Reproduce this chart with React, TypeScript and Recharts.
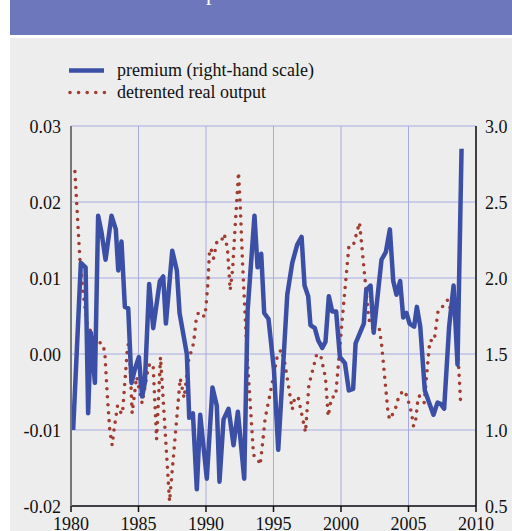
import React from "react";
import { LineChart, Line, XAxis, YAxis, CartesianGrid } from "recharts";

const premiumYears = [
  1980.16, 1980.73, 1981.08, 1981.27, 1981.47, 1981.77, 1982.01, 1982.26, 1982.56, 1983.0,
  1983.32, 1983.5, 1983.74, 1983.99, 1984.24, 1984.48, 1984.73, 1985.03, 1985.27, 1985.47,
  1985.79, 1986.09, 1986.58, 1986.83, 1987.03, 1987.5, 1987.84, 1988.04, 1988.58, 1988.76,
  1989.03, 1989.32, 1989.57, 1990.06, 1990.48, 1990.8, 1991.0, 1991.3, 1991.67, 1992.04,
  1992.36, 1992.83, 1993.08, 1993.59, 1993.82, 1994.09, 1994.31, 1994.63, 1995.03, 1995.35,
  1996.02, 1996.39, 1996.76, 1997.08, 1997.3, 1997.57, 1997.74, 1998.06, 1998.31, 1998.61,
  1998.85, 1999.1, 1999.35, 1999.64, 1999.92, 2000.29, 2000.58, 2000.9, 2001.08, 2001.69,
  2001.87, 2002.19, 2002.42, 2003.0, 2003.32, 2003.62, 2003.87, 2004.11, 2004.38, 2004.61,
  2004.85, 2005.08, 2005.42, 2005.62, 2005.87, 2006.21, 2006.53, 2006.85, 2007.15, 2007.4,
  2007.64, 2008.01, 2008.34, 2008.63, 2008.93,
];
const premiumValues = [
  1.0, 2.1, 2.07, 1.11, 1.64, 1.31, 2.41, 2.3, 2.12, 2.41,
  2.32, 2.05, 2.24, 1.81, 1.8, 1.31, 1.4, 1.48, 1.22, 1.31,
  1.96, 1.67, 1.98, 2.01, 1.7, 2.18, 2.05, 1.77, 1.5, 1.08,
  1.11, 0.61, 1.1, 0.68, 1.28, 1.16, 0.66, 1.07, 1.14, 0.9,
  1.12, 0.68, 1.78, 2.41, 2.07, 2.16, 1.77, 1.73, 1.4, 0.87,
  1.89, 2.1, 2.22, 2.27, 1.95, 1.88, 1.69, 1.67, 1.59, 1.54,
  1.58, 1.88, 1.78, 1.78, 1.48, 1.44, 1.26, 1.27, 1.57, 1.7,
  1.92, 1.95, 1.64, 2.12, 2.17, 2.32, 1.98, 1.89, 1.98, 1.74,
  1.77, 1.7, 1.68, 1.81, 1.68, 1.26, 1.18, 1.1, 1.18, 1.17,
  1.14, 1.68, 1.95, 1.43, 2.85,
];

const outputYears = [
  1980.29, 1980.66, 1980.9, 1981.2, 1981.47, 1981.77, 1982.14, 1982.36, 1982.51, 1982.68,
  1982.88, 1983.05, 1983.2, 1983.45, 1983.69, 1983.81, 1984.19, 1984.31, 1984.53, 1984.86,
  1985.27, 1985.67, 1985.84, 1986.09, 1986.34, 1986.63, 1987.3, 1988.09, 1988.38, 1988.71,
  1989.08, 1989.27, 1989.45, 1989.69, 1989.87, 1989.99, 1990.14, 1990.26, 1990.36, 1990.56,
  1990.8, 1991.1, 1991.35, 1991.59, 1991.79, 1991.97, 1992.16, 1992.41, 1992.53, 1992.71,
  1993.03, 1993.52, 1993.82, 1994.01, 1994.14, 1994.38, 1994.83, 1995.27, 1995.57, 1995.82,
  1996.39, 1996.58, 1996.83, 1997.37, 1997.62, 1998.19, 1998.48, 1998.85, 1999.05, 1999.3,
  1999.6, 2000.09, 2000.58, 2000.9, 2001.37, 2001.57, 2002.06, 2002.31, 2002.83, 2003.0,
  2003.5, 2003.62, 2003.89, 2004.14, 2004.26, 2004.63, 2004.88, 2005.22, 2005.37, 2005.55,
  2005.67, 2005.79, 2006.16, 2006.58, 2006.9, 2007.2, 2007.64, 2007.89, 2008.14, 2008.38,
  2008.51, 2008.88,
];
const outputValues = [
  0.024, 0.0124, 0.008, 0.004, 0.0029, 0.0021, 0.0015, 0.0013, 0.0001, -0.0052,
  -0.0102, -0.012, -0.0098, -0.0068, -0.0077, -0.0079, 0.001, 0.0015, -0.0078, -0.003,
  -0.0065, -0.0023, -0.0012, -0.0017, -0.0112, -0.0004, -0.0194, -0.0032, -0.0058, -0.0008,
  0.0014, 0.0045, 0.0055, 0.0053, 0.0049, 0.006, 0.0093, 0.0135, 0.0139, 0.0126,
  0.0147, 0.0147, 0.0158, 0.0139, 0.0084, 0.0111, 0.0168, 0.0239, 0.0198, 0.0119,
  0.0003, -0.0133, -0.0137, -0.0146, -0.0126, -0.0085, -0.0045, -0.0004, 0.0006, -0.001,
  -0.0073, -0.0057, -0.0057, -0.0103, -0.0041, -0.0001, -0.0001, -0.0031, -0.0082, -0.0057,
  -0.0056, 0.0045, 0.0141, 0.0142, 0.0173, 0.0137, 0.0046, 0.0035, 0.0034, 0.0014,
  -0.008, -0.0086, -0.0077, -0.0067, -0.0056, -0.0048, -0.0055, -0.0077, -0.0095, -0.0085,
  -0.0064, -0.0055, -0.0064, 0.0018, 0.0017, 0.0058, 0.0064, 0.0071, 0.0058, 0.0076,
  0.0049, -0.007,
];

const xTicks = [1980, 1985, 1990, 1995, 2000, 2005, 2010];
const leftTicks = [-0.02, -0.01, 0, 0.01, 0.02, 0.03];
const rightTicks = [0.5, 1.0, 1.5, 2.0, 2.5, 3.0];
const legendLabels = ["premium (right-hand scale)", "detrented real output"];

const premiumData = premiumYears.map((x, i) => ({ x, y: premiumValues[i] }));
const outputData = outputYears.map((x, i) => ({ x, y: outputValues[i] }));

const BLUE = "#3b4fa6";
const RED = "#a03c30";
const FONT = "Liberation Serif";

const XTick = (props: any) => {
  const { x, y, payload } = props;
  return (
    <text x={x} y={y + 16} textAnchor="middle" fontFamily={FONT} fontSize={18} fill="#111">
      {payload.value}
    </text>
  );
};
const LeftTick = (props: any) => {
  const { y, payload } = props;
  return (
    <text x={61} y={y + 6.5} textAnchor="end" fontFamily={FONT} fontSize={18} fill="#111">
      {Number(payload.value).toFixed(2)}
    </text>
  );
};
const RightTick = (props: any) => {
  const { y, payload } = props;
  return (
    <text x={485} y={y + 6.5} textAnchor="start" fontFamily={FONT} fontSize={18} fill="#111">
      {Number(payload.value).toFixed(1)}
    </text>
  );
};

export default function App() {
  return (
    <div style={{ position: "absolute", left: 0, top: 0, width: 512, height: 531, background: "#fff", overflow: "hidden", fontFamily: FONT }}>
      <div style={{ position: "absolute", left: 10, top: 0, width: 502, height: 35, background: "#6d77bb", overflow: "hidden" }}>
        <svg width={502} height={35} style={{ position: "absolute", left: 0, top: 0 }}>
          <text x={196} y={0} fill="#fff" fontFamily={FONT} fontSize={22}>p</text>
        </svg>
      </div>
      <div style={{ position: "absolute", left: 10, top: 38, width: 502, height: 493, background: "#ededed" }} />
      <svg width={512} height={110} style={{ position: "absolute", left: 0, top: 0 }}>
        <line x1={69} x2={104} y1={70.5} y2={70.5} stroke={BLUE} strokeWidth={4.5} />
        <text x={117} y={75.5} fontFamily={FONT} fontSize={18} fill="#111">{legendLabels[0]}</text>
        <line x1={70} x2={106} y1={92.5} y2={92.5} stroke={RED} strokeWidth={3.6} strokeDasharray="0 8.6" strokeLinecap="round" />
        <text x={117} y={97.5} fontFamily={FONT} fontSize={18} fill="#111">{legendLabels[1]}</text>
      </svg>
      <div style={{ position: "absolute", left: 0, top: 0 }}>
        <LineChart width={512} height={531} margin={{ top: 126, right: 0, bottom: 0, left: 0 }}>
          <CartesianGrid yAxisId="left" stroke="#a6aae2" strokeWidth={1} />
          <XAxis
            dataKey="x"
            type="number"
            domain={[1980, 2010]}
            ticks={xTicks}
            allowDataOverflow
            height={25}
            tick={<XTick />}
            tickSize={6}
            axisLine={{ stroke: "#111", strokeWidth: 1.5 }}
            tickLine={{ stroke: "#111", strokeWidth: 1.5 }}
          />
          <YAxis
            yAxisId="left"
            orientation="left"
            domain={[-0.02, 0.03]}
            ticks={leftTicks}
            allowDataOverflow
            width={71}
            tick={<LeftTick />}
            tickLine={false}
            axisLine={{ stroke: "#777", strokeWidth: 2 }}
          />
          <YAxis
            yAxisId="right"
            orientation="right"
            domain={[0.5, 3.0]}
            ticks={rightTicks}
            allowDataOverflow
            width={36}
            tick={<RightTick />}
            tickLine={false}
            axisLine={{ stroke: "#111", strokeWidth: 1.5 }}
          />
          <Line
            yAxisId="left"
            data={outputData}
            dataKey="y"
            type="linear"
            stroke={RED}
            strokeWidth={3.6}
            strokeDasharray="0 8"
            strokeLinecap="round"
            dot={false}
            isAnimationActive={false}
          />
          <Line
            yAxisId="right"
            data={premiumData}
            dataKey="y"
            type="linear"
            stroke={BLUE}
            strokeWidth={4.5}
            strokeLinejoin="round"
            dot={false}
            isAnimationActive={false}
          />
        </LineChart>
      </div>
    </div>
  );
}
